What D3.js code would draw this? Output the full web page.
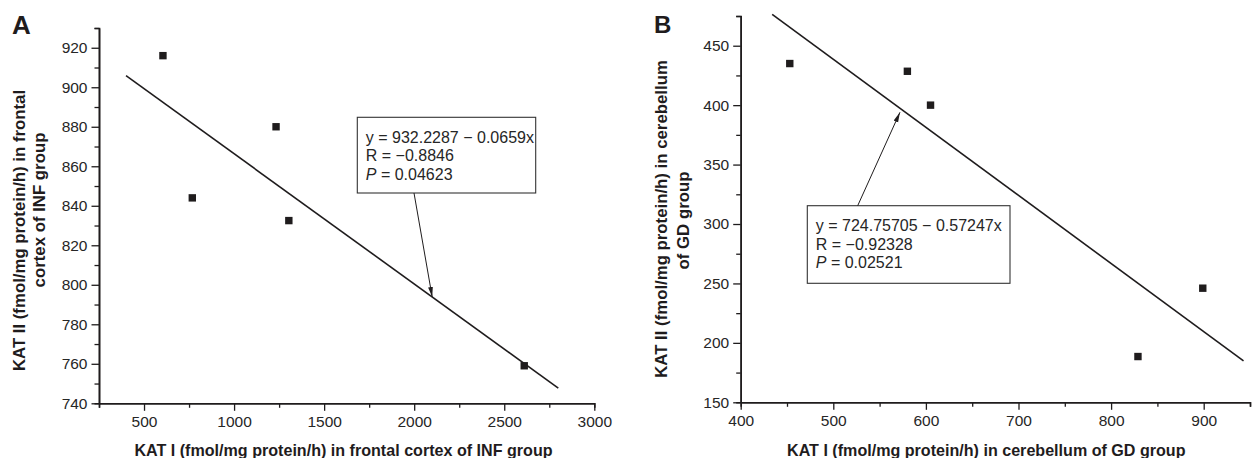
<!DOCTYPE html>
<html>
<head>
<meta charset="utf-8">
<script src="https://cdn.jsdelivr.net/npm/d3@7"></script>
<style>
  html, body { margin: 0; padding: 0; background: #fff; }
  svg { display: block; font-family: "Liberation Sans", Arial, sans-serif; }
</style>
</head>
<body>
<svg id="chart" width="1253" height="458"></svg>
<script>
// ---------------- DATA ----------------
// Panel A: frontal cortex of INF group
const kat1_A = [605, 768, 1233, 1304, 2611];
const kat2_A = [916, 844, 880, 832.5, 759];
const xTicksA = [500, 1000, 1500, 2000, 2500, 3000];
const yTicksA = [740, 760, 780, 800, 820, 840, 860, 880, 900, 920];
const fitA = { intercept: 932.2287, slope: -0.0659, xFrom: 400, xTo: 2800 };
const statsA = ["y = 932.2287 \u2212 0.0659x", "R = \u22120.8846", "0.04623"];

// Panel B: cerebellum of GD group
const kat1_B = [453, 580, 605, 829, 899];
const kat2_B = [435, 428.5, 400, 188.5, 246];
const xTicksB = [400, 500, 600, 700, 800, 900];
const yTicksB = [150, 200, 250, 300, 350, 400, 450];
const fitB = { intercept: 724.75705, slope: -0.57247, xFrom: 434, xTo: 943 };
const statsB = ["y = 724.75705 \u2212 0.57247x", "R = \u22120.92328", "0.02521"];

// ---------------- LAYOUT ----------------
const panels = [
  {
    label: "A", labelPos: [12, 34], labelSize: 26,
    xs: kat1_A, ys: kat2_A, xTicks: xTicksA, yTicks: yTicksA,
    xDomain: [250, 3000], xRange: [99, 594.3], xMinorStep: 250,
    yDomain: [740, 930], yRange: [403.3, 28], yMinorStep: 10,
    fit: fitA, stats: statsA,
    box: { x: 357.3, y: 117.3, w: 178.4, h: 75.7 },
    arrowFrom: [414, 193], arrowToX: 2100, arrowToY: null,
    xLabel: "KAT I (fmol/mg protein/h) in frontal cortex of INF group", xLabelPos: [343.5, 450],
    yLabel: ["KAT II (fmol/mg protein/h) in frontal", "cortex of INF group"],
    yLabelPos: [[19.3, 230.5], [39.3, 210]]
  },
  {
    label: "B", labelPos: [654, 33], labelSize: 24,
    xs: kat1_B, ys: kat2_B, xTicks: xTicksB, yTicks: yTicksB,
    xDomain: [400, 950], xRange: [740.7, 1250], xMinorStep: 50,
    yDomain: [150, 475], yRange: [402.3, 16], yMinorStep: 25,
    fit: fitB, stats: statsB,
    box: { x: 807.3, y: 205.7, w: 202.7, h: 77.6 },
    arrowFrom: [857.7, 205.7], arrowToX: 572, arrowToY: 394,
    xLabel: "KAT I (fmol/mg protein/h) in cerebellum of GD group", xLabelPos: [986.3, 450],
    yLabel: ["KAT II (fmol/mg protein/h) in cerebellum", "of GD group"],
    yLabelPos: [[661.7, 219], [683.3, 220.5]]
  }
];

const svg = d3.select("#chart");
const ink = "#1f1c1d";
const textCol = "#262626";

const defs = svg.append("defs");
defs.append("marker")
  .attr("id", "arrowhead")
  .attr("viewBox", "0 0 10 6")
  .attr("refX", 10).attr("refY", 3)
  .attr("markerWidth", 10).attr("markerHeight", 6)
  .attr("markerUnits", "userSpaceOnUse")
  .attr("orient", "auto")
  .append("path")
  .attr("d", "M0,0.6 L10,3 L0,5.4 Z")
  .attr("fill", ink);

panels.forEach(p => {
  const x = d3.scaleLinear().domain(p.xDomain).range(p.xRange);
  const y = d3.scaleLinear().domain(p.yDomain).range(p.yRange);
  const g = svg.append("g");

  // minor ticks
  const xMinor = d3.range(p.xDomain[0], p.xDomain[1] + 1e-9, p.xMinorStep).filter(v => !p.xTicks.includes(v));
  const yMinor = d3.range(p.yDomain[0], p.yDomain[1] + 1e-9, p.yMinorStep).filter(v => !p.yTicks.includes(v));

  const xAxisMinor = d3.axisBottom(x).tickValues(xMinor).tickSize(4.5).tickFormat("");
  const yAxisMinor = d3.axisLeft(y).tickValues(yMinor).tickSize(4.5).tickFormat("");
  const xAxis = d3.axisBottom(x).tickValues(p.xTicks).tickSize(7.5).tickSizeOuter(0).tickPadding(5).tickFormat(d3.format("d"));
  const yAxis = d3.axisLeft(y).tickValues(p.yTicks).tickSize(7.5).tickSizeOuter(0).tickPadding(4).tickFormat(d3.format("d"));

  const y0 = p.yRange[0], x0 = p.xRange[0];
  [xAxisMinor, xAxis].forEach(ax => {
    const a = g.append("g").attr("transform", `translate(0,${y0})`).call(ax);
    a.select(".domain").attr("stroke", ink).attr("stroke-width", 1.6);
    a.selectAll(".tick line").attr("stroke", ink).attr("stroke-width", 1.3);
    a.selectAll(".tick text").attr("fill", textCol).attr("font-size", 15.5)
      .attr("font-family", "Liberation Sans, Arial, sans-serif");
  });
  [yAxisMinor, yAxis].forEach(ax => {
    const a = g.append("g").attr("transform", `translate(${x0},0)`).call(ax);
    a.select(".domain").attr("stroke", ink).attr("stroke-width", 1.6);
    a.selectAll(".tick line").attr("stroke", ink).attr("stroke-width", 1.3);
    a.selectAll(".tick text").attr("fill", textCol).attr("font-size", 15.5)
      .attr("font-family", "Liberation Sans, Arial, sans-serif");
  });

  // regression line
  const f = p.fit;
  g.append("line")
    .attr("x1", x(f.xFrom)).attr("y1", y(f.intercept + f.slope * f.xFrom))
    .attr("x2", x(f.xTo)).attr("y2", y(f.intercept + f.slope * f.xTo))
    .attr("stroke", ink).attr("stroke-width", 1.6);

  // points
  const sz = 7.4;
  g.selectAll("rect.pt").data(p.xs.map((v, i) => [v, p.ys[i]])).enter()
    .append("rect").attr("class", "pt")
    .attr("x", d => x(d[0]) - sz / 2).attr("y", d => y(d[1]) - sz / 2)
    .attr("width", sz).attr("height", sz).attr("fill", ink);

  // annotation box
  const b = p.box;
  g.append("rect").attr("x", b.x).attr("y", b.y).attr("width", b.w).attr("height", b.h)
    .attr("fill", "#fff").attr("stroke", "#333").attr("stroke-width", 1.1);
  const tx = b.x + 8.5;
  const lineY = [b.y + 25.3, b.y + 44, b.y + 62.7];
  g.append("text").attr("x", tx).attr("y", lineY[0]).attr("font-size", 16).attr("fill", textCol).text(p.stats[0]);
  g.append("text").attr("x", tx).attr("y", lineY[1]).attr("font-size", 16).attr("fill", textCol).text(p.stats[1]);
  const pt = g.append("text").attr("x", tx).attr("y", lineY[2]).attr("font-size", 16).attr("fill", textCol);
  pt.append("tspan").attr("font-style", "italic").text("P");
  pt.append("tspan").text(" = " + p.stats[2]);

  // arrow
  const ay = p.arrowToY == null ? f.intercept + f.slope * p.arrowToX : p.arrowToY;
  g.append("line")
    .attr("x1", p.arrowFrom[0]).attr("y1", p.arrowFrom[1])
    .attr("x2", x(p.arrowToX)).attr("y2", y(ay))
    .attr("stroke", ink).attr("stroke-width", 1)
    .attr("marker-end", "url(#arrowhead)");

  // axis titles
  g.append("text").attr("x", p.xLabelPos[0]).attr("y", p.xLabelPos[1])
    .attr("text-anchor", "middle").attr("dominant-baseline", "central")
    .attr("font-weight", "bold").attr("font-size", 16.1).attr("fill", ink).text(p.xLabel);
  p.yLabel.forEach((t, i) => {
    g.append("text")
      .attr("transform", `translate(${p.yLabelPos[i][0]},${p.yLabelPos[i][1]}) rotate(-90)`)
      .attr("text-anchor", "middle").attr("dominant-baseline", "central")
      .attr("font-weight", "bold").attr("font-size", 16.8).attr("fill", ink).text(t);
  });

  // panel letter
  svg.append("text").attr("x", p.labelPos[0]).attr("y", p.labelPos[1])
    .attr("font-weight", "bold").attr("font-size", p.labelSize).attr("fill", ink).text(p.label);
});
</script>
</body>
</html>
